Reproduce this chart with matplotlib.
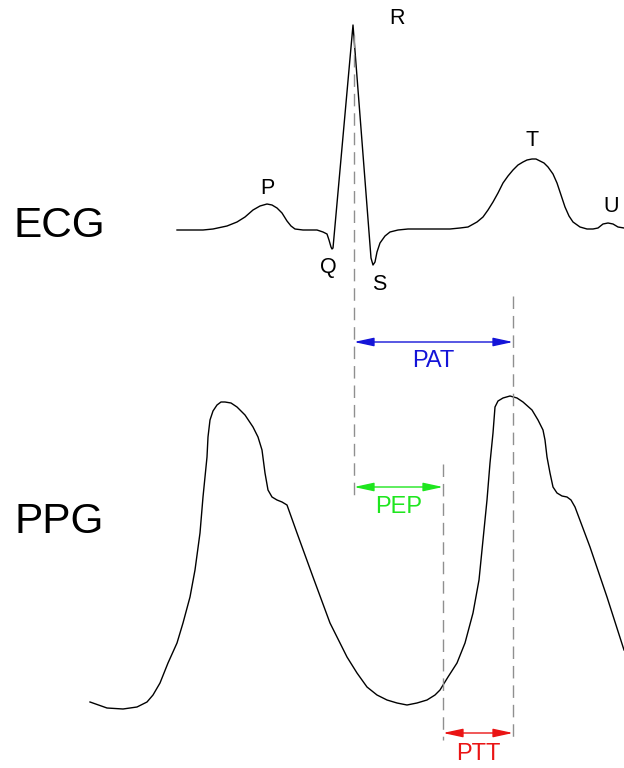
import matplotlib
matplotlib.use("Agg")
import matplotlib.pyplot as plt
from matplotlib.patches import FancyArrowPatch

plt.rcParams["font.family"] = ["Liberation Sans", "DejaVu Sans"]

# ECG trace, sampled points (x = time, y = screen height, downwards)
ecg_x = [177, 203, 213, 227, 237, 245, 253, 260, 267, 272, 277, 282, 287, 291,
         295, 303, 317, 323, 327, 329, 331, 332, 333, 353, 371, 373, 375, 377,
         380, 385, 390, 398, 408, 450, 460, 468, 477, 483, 488, 493, 498, 503,
         508, 513, 518, 523, 527, 532, 536, 540, 544, 548, 553, 557, 561, 565,
         569, 573, 580, 587, 593, 598, 603, 608, 613, 618, 624]
ecg_y = [230, 230, 229, 226, 222, 217, 210, 206, 204, 205, 208, 213, 221, 226,
         229, 230, 230, 232, 234, 240, 247, 249, 248, 25, 258, 265, 262, 252,
         243, 236, 232, 230, 229, 229, 228, 227, 222, 217, 210, 202, 193, 183,
         176, 170, 165, 162, 160, 159, 159, 161, 163, 167, 174, 183, 195, 207,
         216, 222, 227, 229, 229, 228, 224, 223, 224, 227, 228]

# PPG trace
ppg_x = [90, 107, 123, 137, 147, 153, 160, 168, 177, 183, 190, 195, 200, 203,
         207, 208, 210, 213, 217, 221, 225, 231, 237, 245, 253, 258, 262, 265,
         268, 272, 277, 282, 287, 297, 313, 330, 347, 357, 367, 377, 387, 397,
         407, 417, 427, 435, 440, 448, 457, 465, 473, 479, 483, 487, 490, 493,
         495, 498, 503, 510, 517, 523, 532, 538, 543, 545, 547, 550, 553, 557,
         562, 567, 571, 575, 590, 607, 624]
ppg_y = [702, 708, 709, 707, 702, 695, 683, 663, 643, 623, 597, 570, 533, 497,
         457, 437, 420, 411, 405, 402, 402, 403, 407, 415, 427, 437, 450, 473,
         490, 497, 500, 502, 505, 533, 577, 623, 657, 673, 687, 695, 700, 703,
         705, 703, 700, 695, 690, 677, 663, 643, 613, 580, 540, 500, 463, 433,
         407, 401, 398, 396, 398, 402, 410, 420, 430, 440, 457, 473, 487, 493,
         496, 497, 500, 507, 547, 597, 650]

# wave labels and where they sit
wave_names = ["P", "Q", "R", "S", "T", "U"]
wave_pos = [(267, 188), (328, 268), (397, 18), (379, 285), (532, 141), (611, 207)]

# timing marks
r_peak = 354      # ECG R peak
ppg_onset = 443   # foot of the PPG upstroke
ppg_peak = 513    # PPG systolic peak

fig = plt.figure(figsize=(6.24, 7.68), dpi=100)
ax = fig.add_axes([0, 0, 1, 1])
ax.set_xlim(0, 624)
ax.set_ylim(768, 0)
ax.axis("off")

ax.plot(ecg_x, ecg_y, color="black", lw=1.0, solid_joinstyle="round")
ax.plot(ppg_x, ppg_y, color="black", lw=1.0, solid_joinstyle="round")

for name, (x, y) in zip(wave_names, wave_pos):
    ax.text(x, y, name, ha="center", va="center", fontsize=15.5)

ax.text(59, 226, "ECG", ha="center", va="center", fontsize=30.5)
ax.text(59, 522, "PPG", ha="center", va="center", fontsize=30.5)

# guide lines
dash = dict(color="#8f8f8f", lw=1.0, dashes=(9, 5))
ax.plot([r_peak, r_peak], [35, 495], **dash)
ax.plot([ppg_onset, ppg_onset], [464, 740], **dash)
ax.plot([ppg_peak, ppg_peak], [296, 740], **dash)


def interval(x0, x1, y, label, color, ty):
    arr = FancyArrowPatch((x0, y), (x1, y),
                          arrowstyle="<|-|>,head_length=12,head_width=2.6",
                          color=color, lw=1.0, shrinkA=0, shrinkB=0,
                          mutation_scale=1)
    ax.add_patch(arr)
    ax.text((x0 + x1) / 2, ty, label, ha="center", va="center",
            fontsize=17, color=color)


interval(r_peak, ppg_peak, 342, "PAT", "#1414d8", 361)
interval(r_peak, ppg_onset, 487, "PEP", "#1ee61e", 507)
interval(ppg_onset, ppg_peak, 733, "PTT", "#ea1414", 754)

fig.savefig("out.png", dpi=100, facecolor="white")
